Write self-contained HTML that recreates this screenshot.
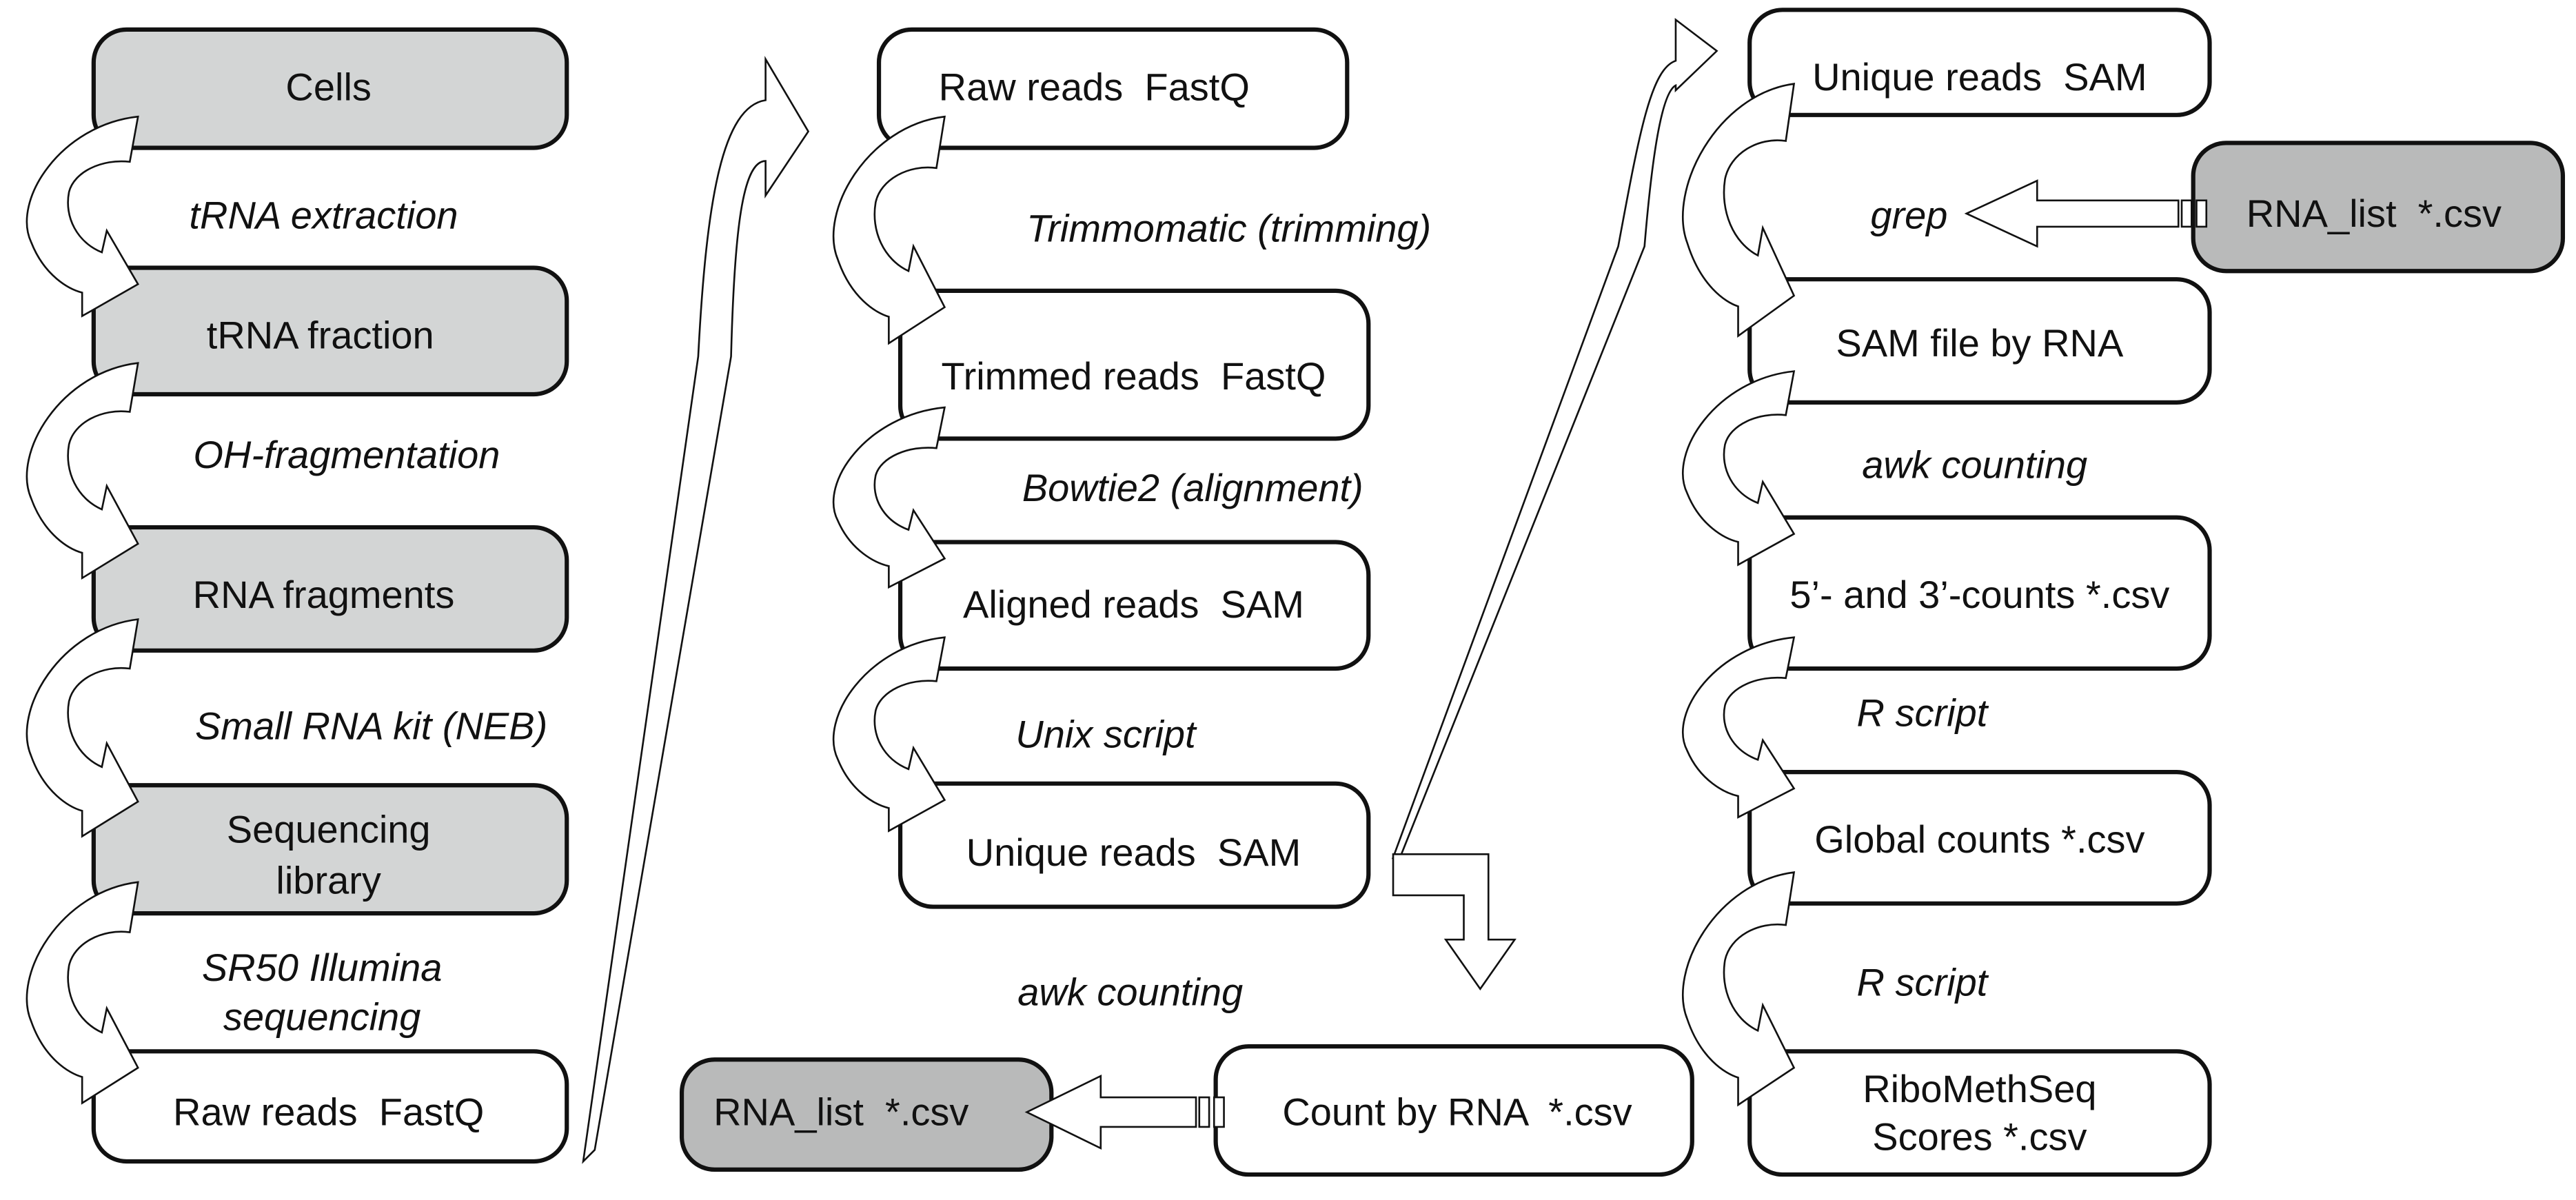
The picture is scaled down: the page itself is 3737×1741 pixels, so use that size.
<!DOCTYPE html>
<html><head><meta charset="utf-8"><style>
html,body{margin:0;padding:0;background:#fff;}
svg{display:block;}
text{font-family:"Liberation Sans",Arial,sans-serif;font-size:23.5px;fill:#111;white-space:pre;}
.i{font-style:italic;}
.b{stroke:#111;stroke-width:2.6;}
.a{fill:#fff;stroke:#111;stroke-width:1.1;}
</style></head><body>
<svg id="s" width="3737" height="1741" viewBox="0 0 1568 730.5" xmlns="http://www.w3.org/2000/svg" xml:space="preserve">
<rect width="1568" height="731" fill="#fff"/>
<rect class="b" x="57" y="18" width="288" height="72" rx="20" fill="#d3d5d5"/>
<text x="200" y="61" text-anchor="middle">Cells</text>
<text class="i" x="197" y="139" text-anchor="middle">tRNA extraction</text>
<rect class="b" x="57" y="163" width="288" height="77" rx="20" fill="#d3d5d5"/>
<text x="195" y="212" text-anchor="middle">tRNA fraction</text>
<text class="i" x="211" y="285" text-anchor="middle">OH-fragmentation</text>
<rect class="b" x="57" y="321" width="288" height="75" rx="20" fill="#d3d5d5"/>
<text x="197" y="370" text-anchor="middle">RNA fragments</text>
<text class="i" x="226" y="450" text-anchor="middle">Small RNA kit (NEB)</text>
<rect class="b" x="57" y="478" width="288" height="78" rx="20" fill="#d3d5d5"/>
<text x="200" y="513" text-anchor="middle">Sequencing</text>
<text x="200" y="544" text-anchor="middle">library</text>
<text class="i" x="196" y="597" text-anchor="middle">SR50 Illumina</text>
<text class="i" x="196" y="627" text-anchor="middle">sequencing</text>
<rect class="b" x="57" y="640" width="288" height="67" rx="20" fill="#fff"/>
<text x="200" y="685" text-anchor="middle">Raw reads  FastQ</text>
<rect class="b" x="535" y="18" width="285" height="72" rx="20" fill="#fff"/>
<text x="666" y="61" text-anchor="middle">Raw reads  FastQ</text>
<text class="i" x="748" y="147" text-anchor="middle">Trimmomatic (trimming)</text>
<rect class="b" x="548" y="177" width="285" height="90" rx="20" fill="#fff"/>
<text x="690" y="237" text-anchor="middle">Trimmed reads  FastQ</text>
<text class="i" x="726" y="305" text-anchor="middle">Bowtie2 (alignment)</text>
<rect class="b" x="548" y="330" width="285" height="77" rx="20" fill="#fff"/>
<text x="690" y="376" text-anchor="middle">Aligned reads  SAM</text>
<text class="i" x="673" y="455" text-anchor="middle">Unix script</text>
<rect class="b" x="548" y="477" width="285" height="75" rx="20" fill="#fff"/>
<text x="690" y="527" text-anchor="middle">Unique reads  SAM</text>
<text class="i" x="688" y="612" text-anchor="middle">awk counting</text>
<rect class="b" x="415" y="645" width="225" height="67" rx="20" fill="#b9baba"/>
<text x="512" y="685" text-anchor="middle">RNA_list  *.csv</text>
<rect class="b" x="740" y="637" width="290" height="78" rx="20" fill="#fff"/>
<text x="887" y="685" text-anchor="middle">Count by RNA  *.csv</text>
<rect class="b" x="1065" y="6" width="280" height="64" rx="20" fill="#fff"/>
<text x="1205" y="55" text-anchor="middle">Unique reads  SAM</text>
<text class="i" x="1162" y="139" text-anchor="middle">grep</text>
<rect class="b" x="1335" y="87" width="225" height="78" rx="20" fill="#b9baba"/>
<text x="1445" y="138" text-anchor="middle">RNA_list  *.csv</text>
<rect class="b" x="1065" y="170" width="280" height="75" rx="20" fill="#fff"/>
<text x="1205" y="217" text-anchor="middle">SAM file by RNA</text>
<text class="i" x="1202" y="291" text-anchor="middle">awk counting</text>
<rect class="b" x="1065" y="315" width="280" height="92" rx="20" fill="#fff"/>
<text x="1205" y="370" text-anchor="middle">5’- and 3’-counts *.csv</text>
<text class="i" x="1170" y="442" text-anchor="middle">R script</text>
<rect class="b" x="1065" y="470" width="280" height="80" rx="20" fill="#fff"/>
<text x="1205" y="519" text-anchor="middle">Global counts *.csv</text>
<text class="i" x="1170" y="606" text-anchor="middle">R script</text>
<rect class="b" x="1065" y="640" width="280" height="75" rx="20" fill="#fff"/>
<text x="1205" y="671" text-anchor="middle">RiboMethSeq</text>
<text x="1205" y="700" text-anchor="middle">Scores *.csv</text>
<path class="a" d="M355,707 L425,217 C430,120 440,65 466,61 L466,36 L492,80 L466,119 L466,98 C452,98 447,140 445,217 L362,700 Z"/>
<path class="a" d="M848,522 L985,150 C998,80 1005,42 1020,37 L1020,12 L1045,31 L1020,55 L1020,52 C1012,56 1006,90 1001,150 L853,520 Z"/>
<path class="a" d="M848,520 L906,520 L906,572 L922,572 L901,602 L880,572 L891,572 L891,545 L848,545 Z"/>
<path class="a" d="M625,677 L670,655 L670,668 L728,668 L728,686 L670,686 L670,699 Z"/>
<rect class="a" x="730" y="668" width="6" height="18"/><rect class="a" x="739" y="668" width="6" height="18"/>
<path class="a" d="M1197,130 L1240,110 L1240,122 L1326,122 L1326,138 L1240,138 L1240,150 Z"/>
<rect class="a" x="1328" y="122" width="6" height="16"/><rect class="a" x="1337" y="122" width="6" height="16"/>
<g id="curves"></g>
</svg>
<script>
(function(){
var P=[["M",27,0],["C",-20,0.05,-50,0.5,-38,0.75],["C",-30,0.95,-15,1.03,-7,1.05],["L",-7,1.19],["L",27,1.0],["L",8,0.68],["L",5,0.81],["C",-10,0.75,-18,0.6,-15,0.45],["C",-12,0.33,5,0.25,22,0.27]];
function arrow(bx,y0,y1){var h=y1-y0,d="";P.forEach(function(s){d+=s[0];for(var i=1;i<s.length;i+=2){d+=(bx+s[i]).toFixed(1)+","+(y0+s[i+1]*h).toFixed(1)+" ";}});return d+"Z";}
var A=[[57,71,173],[57,221,331],[57,377,488],[57,537,650],
[548,71,187],[548,248,340],[548,388,487],
[1065,51,180],[1065,226,325],[1065,388,480],[1065,531,650]];
var g=document.getElementById("curves"),ns="http://www.w3.org/2000/svg";
A.forEach(function(a){var p=document.createElementNS(ns,"path");p.setAttribute("class","a");p.setAttribute("d",arrow(a[0],a[1],a[2]));g.appendChild(p);});
})();
</script>
</body></html>
